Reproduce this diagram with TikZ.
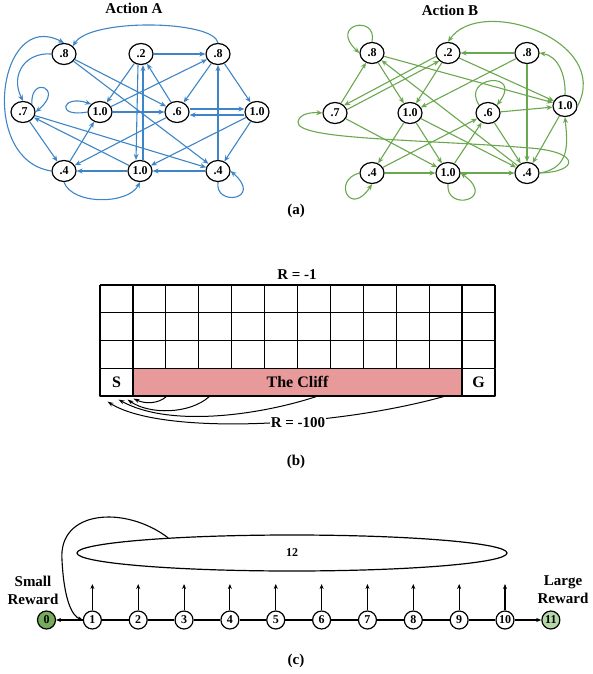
\documentclass[tikz,border=0pt]{standalone}
\usepackage{fontspec}
\setmainfont{Liberation Serif}
\usepackage{xcolor}
\usetikzlibrary{arrows.meta,shapes.geometric}

\definecolor{actblue}{RGB}{61,133,198}
\definecolor{actgreen}{RGB}{106,168,79}
\definecolor{cliffred}{RGB}{232,153,154}
\definecolor{startgreen}{RGB}{118,170,92}
\definecolor{goalgreen}{RGB}{182,215,168}

\begin{document}
\begin{tikzpicture}[x=1pt, y=-1pt, line join=round,
  st/.style={ellipse, draw, line width=1.2pt, minimum width=24pt, minimum height=21pt, inner sep=0pt, font=\bfseries\fontsize{12}{14}\selectfont},
  ea/.style={actblue, line width=1.1pt, -{Stealth[length=6pt,width=5pt]}},
  eb/.style={actgreen, line width=1.1pt, -{Stealth[length=6pt,width=5pt]}},
  lab/.style={font=\bfseries\fontsize{15}{18}\selectfont},
  cell/.style={draw, line width=1.2pt, minimum width=32.9pt, minimum height=27.75pt, inner sep=0pt, font=\bfseries\fontsize{16}{18}\selectfont},
  fall/.style={line width=1pt, -{Stealth[length=6pt,width=4pt]}},
  ch/.style={circle, draw, line width=1.2pt, minimum size=18pt, inner sep=0pt, font=\bfseries\fontsize{12}{14}\selectfont},
  ce/.style={line width=1.1pt, -{Stealth[length=5pt,width=4pt]}}]
  \useasboundingbox (0,0) rectangle (592,674);

  % (a) Action A
  \node[lab] (titleA) at (134,8) {Action A};
  \node[st] (a1) at (64,54) {.8};
  \node[st] (a2) at (141,54) {.2};
  \node[st] (a3) at (218,54) {.8};
  \node[st] (a4) at (23,112) {.7};
  \node[st] (a5) at (100,112) {1.0};
  \node[st] (a6) at (177,112) {.6};
  \node[st] (a7) at (257,112) {1.0};
  \node[st] (a8) at (64,171) {.4};
  \node[st] (a9) at (140,171) {1.0};
  \node[st] (a10) at (218,171) {.4};

  \draw[ea] (a3.north) .. controls (214,20) and (90,18) .. (a1.north east);
  \draw[ea] (a8.west) .. controls (-22,160) and (-2,8) .. (a1.north);
  \draw[ea] (a1.west) .. controls (25,52) and (10,75) .. (a4.north);
  \draw[ea] (a4.north east) .. controls (30,75) and (65,88) .. (a4.east);
  \draw[ea] (a1) -- (a6);
  \draw[ea] (a1) -- (a10);
  \draw[ea] (a2) -- (a3);
  \draw[ea] (a2) -- (a5);
  \draw[ea] ([xshift=-3pt]a2.south) -- ([xshift=-4pt]a9.north);
  \draw[ea] ([xshift=3pt]a9.north) -- ([xshift=2pt]a2.south);
  \draw[ea] (a6) -- (a2);
  \draw[ea] (a3) -- (a6);
  \draw[ea] (a3) -- (a7);
  \draw[ea] (a10) -- (a3);
  \draw[ea] (a5) -- (a3);
  \draw[ea] (a5.west) .. controls (55,118) and (62,94) .. (a5.north west);
  \draw[ea] (a5) -- (a6);
  \draw[ea] ([yshift=3pt]a6.east) -- ([yshift=3pt]a7.west);
  \draw[ea] ([yshift=-3pt]a7.west) -- ([yshift=-3pt]a6.east);
  \draw[ea] (a6) -- (a8);
  \draw[ea] (a7) -- (a9);
  \draw[ea] (a7) -- (a10);
  \draw[ea] (a4) -- (a8);
  \draw[ea] (a8) -- (a5);
  \draw[ea] (a9) -- (a4);
  \draw[ea] (a4) -- (a10);
  \draw[ea] (a10) -- (a9);
  \draw[ea] (a9) -- (a8);
  \draw[ea] (a8.south) .. controls (72,205) and (128,205) .. (a9.south);
  \draw[ea] (a10.south) .. controls (214,207) and (264,200) .. (a10.east);

  % (a) Action B
  \node[lab] (titleB) at (450,10) {Action B};
  \node[st] (b1) at (372,53) {.8};
  \node[st] (b2) at (448,53) {.2};
  \node[st] (b3) at (527,53) {.8};
  \node[st] (b4) at (335,113) {.7};
  \node[st] (b5) at (410,113) {1.0};
  \node[st] (b6) at (488,113) {.6};
  \node[st] (b7) at (565,106) {1.0};
  \node[st] (b8) at (372,173) {.4};
  \node[st] (b9) at (448,173) {1.0};
  \node[st] (b10) at (527,173) {.4};

  \draw[eb] (b1.north) .. controls (378,14) and (328,24) .. (b1.west);
  \draw[eb] (b4) -- (b1);
  \draw[eb] (b1) -- (b5);
  \draw[eb] (b10) -- (b1);
  \draw[eb] (b1) -- (b7);
  \draw[eb] (b2.196) -- (b4.40);
  \draw[eb] (b4.16) -- (b2.222);
  \draw[eb] (b2) -- (b5);
  \draw[eb] (b3) -- (b2);
  \draw[eb] (b3) -- (b5);
  \draw[eb] (b2) -- (b7);
  \draw[eb] (b3) -- (b10);
  \draw[eb] (b7.north) .. controls (566,75) and (558,56) .. (b3.east);
  \draw[eb] (b7.east) .. controls (612,40) and (480,-5) .. (b2.north);
  \draw[eb] (b6.north west) .. controls (460,76) and (524,70) .. (b6.north east);
  \draw[eb] (b6) -- (b7);
  \draw[eb] (b4) -- (b9);
  \draw[eb] (b10.east) .. controls (578,172) and (582,152) .. (530,148) .. controls (420,139) and (296,140) .. (298,122) .. controls (299,115) and (308,112) .. (b4.west);
  \draw[eb] (b10.east) .. controls (572,168) and (567,140) .. (b7.south);
  \draw[eb] (b5) -- (b8);
  \draw[eb] (b5) -- (b9);
  \draw[eb] (b5) -- (b10);
  \draw[eb] (b8) -- (b6);
  \draw[eb] (b9) -- (b6);
  \draw[eb] (b6) -- (b10);
  \draw[eb] (b7) -- (b10);
  \draw[eb] (b8) -- (b9);
  \draw[eb] (b9) -- (b10);
  \draw[eb] (b8.west) .. controls (332,180) and (350,218) .. (b8.south);
  \draw[eb] (b9.south) .. controls (445,212) and (498,200) .. (b9.east);

  \node[lab] (capA) at (296,211) {(a)};

  % (b) the cliff grid
  \node[lab] (rstep) at (297,275) {R = -1};
  \foreach \i in {0,...,12}
    \draw[line width=1.2pt] (100+32.917*\i,285) -- (100+32.917*\i,368.25);
  \foreach \y in {285,312.75,340.5,368.25}
    \draw[line width=1.2pt] (100,\y) -- (495,\y);
  \node[cell] (S) at (116.46,382.1) {S};
  \node[cell, fill=cliffred, minimum width=329.2pt] (cliff) at (297.5,382.1) {The Cliff};
  \node[cell] (G) at (478.54,382.1) {G};

  \draw[fall] ([xshift=34pt]cliff.south west) .. controls (158,404) and (145,404) .. ([yshift=-2pt]S.south east);
  \draw[fall] ([xshift=77pt]cliff.south west) .. controls (190,414) and (150,415) .. ([xshift=-6pt,yshift=-3pt]S.south east);
  \draw[fall] ([xshift=184pt]cliff.south west) .. controls (260,415) and (170,428) .. ([xshift=-15pt,yshift=-3pt]S.south east);
  \draw[fall] ([xshift=-19pt]cliff.south east) .. controls (330,428) and (160,435) .. ([xshift=-26pt,yshift=-5pt]S.south east);
  \node[lab, fill=white, inner sep=1pt] (rfall) at (298,423) {R = -100};

  \node[lab] (capB) at (296,462) {(b)};

  % (c) the chain
  \node[ellipse, draw, line width=1.2pt, minimum width=430pt, minimum height=36pt, font=\bfseries\fontsize{12}{14}\selectfont] (ring) at (292,553) {12};
  \node[ch, fill=startgreen] (n0) at (46.5,620) {0};
  \foreach \i in {1,...,10}
    \node[ch] (n\i) at (46.5+45.85*\i,620) {\i};
  \node[ch, fill=goalgreen] (n11) at (550.85,620) {11};

  \foreach \i [evaluate=\i as \j using int(\i+1)] in {1,...,9}
    \draw[line width=1.1pt] (n\i) -- (n\j);
  \draw[ce] (n1) -- (n0);
  \draw[ce] (n10) -- (n11);
  \foreach \i in {1,...,10} {
    \coordinate (u\i) at (46.5+45.85*\i,584);
    \draw[ce] (n\i.north) -- (u\i);
  }
  \draw[ce] (ring.173) .. controls (125,505) and (58,510) .. (62,560) .. controls (64,600) and (72,616) .. (n1.west);

  \node[lab, align=center, font=\bfseries\fontsize{15}{18}\selectfont] (small) at (33,590) {Small\\Reward};
  \node[lab, align=center, font=\bfseries\fontsize{15}{18}\selectfont] (large) at (563,590) {Large\\Reward};

  \node[lab] (capC) at (296,661) {(c)};
\end{tikzpicture}
\end{document}
